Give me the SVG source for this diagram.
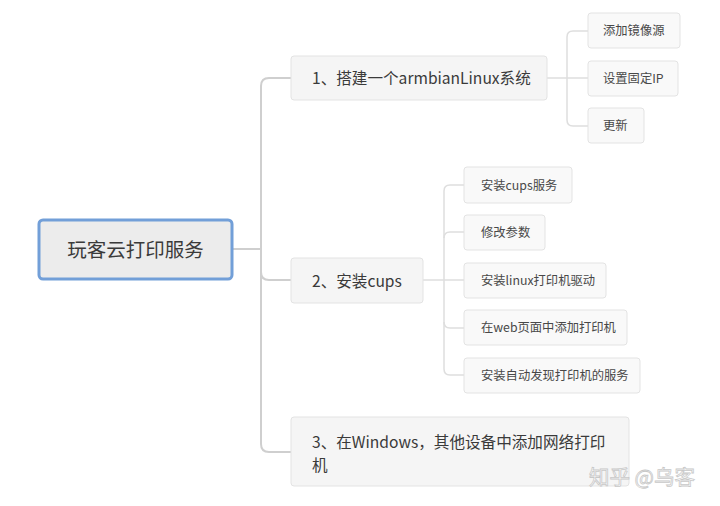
<svg xmlns="http://www.w3.org/2000/svg" width="720" height="506" viewBox="0 0 720 506">
<style>
text{font-family:"Noto Sans CJK SC","Noto Sans",sans-serif;fill:#3a3a3a}
.main{fill:none;stroke:#cfcfcf;stroke-width:2}
.sub{fill:none;stroke:#dedede;stroke-width:1.5}
.b1{fill:#f5f5f5;stroke:#e3e3e3;stroke-width:1}
.b2{fill:#f9f9f9;stroke:#e3e3e3;stroke-width:1}
.t1{font-size:15.6px}
.t2{font-size:12.3px;fill:#484848}
</style>
<rect width="720" height="506" fill="#ffffff"/>
<g id="connectors">
<path class="main" d="M233 249 H261"/>
<path class="main" d="M291 78 H269 Q261 78 261 86 V444 Q261 452 269 452 H291"/>
<path class="main" d="M261 272 Q261 280 269 280 H291"/>
<path class="sub" d="M547 78 H588"/>
<path class="sub" d="M588 31 H573 Q567 31 567 37 V120 Q567 126 573 126 H588"/>
<path class="sub" d="M423 280 H464"/>
<path class="sub" d="M464 185 H450 Q444 185 444 191 V369 Q444 375 450 375 H464"/>
<path class="sub" d="M444 238 Q444 232 450 232 H464"/>
<path class="sub" d="M444 322 Q444 328 450 328 H464"/>
</g>
<g id="root">
<rect x="39" y="220" width="193" height="59" rx="4" fill="#ececec" stroke="#729fd8" stroke-width="3"/>
<text x="135.5" y="257" font-size="19.5" text-anchor="middle">玩客云打印服务</text>
</g>
<g id="n1">
<rect class="b1" x="291" y="56" width="256" height="44" rx="3"/>
<text class="t1" x="312" y="84">1、搭建一个armbianLinux系统</text>
</g>
<g id="n1a">
<rect class="b2" x="588" y="13" width="92" height="35" rx="3"/>
<text class="t2" x="603" y="35">添加镜像源</text>
</g>
<g id="n1b">
<rect class="b2" x="588" y="61" width="90" height="35" rx="3"/>
<text class="t2" x="603" y="83">设置固定IP</text>
</g>
<g id="n1c">
<rect class="b2" x="588" y="108" width="56" height="35" rx="3"/>
<text class="t2" x="603" y="130">更新</text>
</g>
<g id="n2">
<rect class="b1" x="291" y="258" width="132" height="45" rx="3"/>
<text class="t1" x="312" y="287">2、安装cups</text>
</g>
<g id="n2a">
<rect class="b2" x="464" y="167" width="108" height="36" rx="3"/>
<text class="t2" x="481" y="190">安装cups服务</text>
</g>
<g id="n2b">
<rect class="b2" x="464" y="215" width="81" height="35" rx="3"/>
<text class="t2" x="481" y="237">修改参数</text>
</g>
<g id="n2c">
<rect class="b2" x="464" y="263" width="142" height="35" rx="3"/>
<text class="t2" x="481" y="285">安装linux打印机驱动</text>
</g>
<g id="n2d">
<rect class="b2" x="464" y="310" width="163" height="35" rx="3"/>
<text class="t2" x="481" y="332">在web页面中添加打印机</text>
</g>
<g id="n2e">
<rect class="b2" x="464" y="358" width="176" height="35" rx="3"/>
<text class="t2" x="481" y="380">安装自动发现打印机的服务</text>
</g>
<g id="n3">
<rect class="b1" x="291" y="417" width="338" height="69" rx="3"/>
<text class="t1" x="312" y="448">3、在Windows，其他设备中添加网络打印</text>
<text class="t1" x="312" y="471">机</text>
</g>
<text x="589" y="485" font-size="20.5" stroke="#c8c8c8" stroke-width="0.8" style="fill:#ffffff">知乎 @乌客</text>
</svg>
